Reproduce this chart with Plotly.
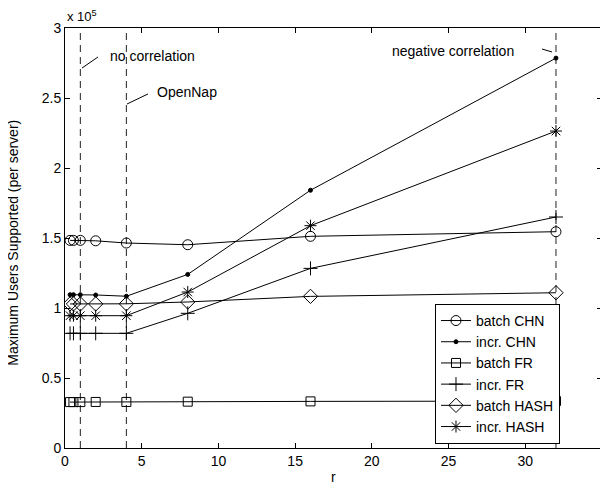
import plotly.graph_objects as go

r_values = [0.33, 0.55, 1, 2, 4, 8, 16, 32]

batch_chn = [1.483, 1.483, 1.483, 1.48, 1.464, 1.452, 1.512, 1.545]
incr_chn = [1.095, 1.095, 1.095, 1.093, 1.084, 1.24, 1.841, 2.785]
batch_fr = [0.328, 0.328, 0.328, 0.329, 0.329, 0.331, 0.333, 0.335]
incr_fr = [0.819, 0.819, 0.819, 0.819, 0.819, 0.962, 1.283, 1.65]
batch_hash = [1.029, 1.029, 1.029, 1.029, 1.03, 1.043, 1.083, 1.109]
incr_hash = [0.945, 0.945, 0.945, 0.945, 0.945, 1.114, 1.588, 2.264]

series_names = ["batch CHN", "incr. CHN", "batch FR", "incr. FR", "batch HASH", "incr. HASH"]
series_values = [batch_chn, incr_chn, batch_fr, incr_fr, batch_hash, incr_hash]
series_symbols = ["circle-open", "circle", "square-open", "cross-thin-open", "diamond-open", "asterisk-open"]
series_sizes = [10, 4, 9, 10, 11, 10]

x_ticks = [0, 5, 10, 15, 20, 25, 30, 35]
y_ticks = [0, 0.5, 1, 1.5, 2, 2.5, 3]
y_tick_labels = ["0", "0.5", "1", "1.5", "2", "2.5", "3"]

ref_lines = [1, 4, 32]

FONT = "Liberation Sans, Arial, Helvetica, sans-serif"
TXT = dict(family=FONT, size=14, color="black")

fig = go.Figure()

for xv in ref_lines:
    fig.add_shape(type="line", xref="x", yref="y", x0=xv, x1=xv, y0=0, y1=3,
                  line=dict(color="#222222", width=1, dash="7px,5px"), layer="below")

for name, vals, sym, sz in zip(series_names, series_values, series_symbols, series_sizes):
    fig.add_trace(go.Scatter(
        x=r_values, y=vals, name=name, mode="lines+markers",
        line=dict(color="black", width=1),
        marker=dict(symbol=sym, size=sz, color="black",
                    line=dict(color="black", width=1)),
    ))

# text annotations with pointer lines
fig.add_annotation(text="no correlation", x=2.80, y=2.80, xref="x", yref="y",
                   xanchor="left", yanchor="middle", showarrow=False, font=TXT)
fig.add_shape(type="line", xref="x", yref="y", x0=1.11, y0=2.714, x1=2.15, y1=2.793,
              line=dict(color="black", width=1))

fig.add_annotation(text="OpenNap", x=5.87, y=2.543, xref="x", yref="y",
                   xanchor="left", yanchor="middle", showarrow=False, font=TXT)
fig.add_shape(type="line", xref="x", yref="y", x0=4.04, y0=2.457, x1=5.41, y1=2.529,
              line=dict(color="black", width=1))

fig.add_annotation(text="negative correlation", x=21.18, y=2.836, xref="x", yref="y",
                   xanchor="left", yanchor="middle", showarrow=False, font=TXT)
fig.add_shape(type="line", xref="x", yref="y", x0=31.09, y0=2.85, x1=31.74, y1=2.829,
              line=dict(color="black", width=1))

fig.add_annotation(text="x 10<sup>5</sup>", x=0, y=1.0, xref="paper", yref="paper",
                   xanchor="left", yanchor="bottom", yshift=2, showarrow=False,
                   font=dict(family=FONT, size=13, color="black"))

# axis titles
fig.add_annotation(text="Maximum Users Supported (per server)", x=-0.096, y=0.49,
                   xref="paper", yref="paper", textangle=-90, xanchor="center",
                   yanchor="middle", showarrow=False, font=TXT)
fig.add_annotation(text="r", x=0.5, y=-0.069, xref="paper", yref="paper",
                   xanchor="center", yanchor="middle", showarrow=False, font=TXT)

# the page body adds an 8px offset, so the figure is 8px smaller than the window
fig.update_layout(
    width=600, height=479,
    margin=dict(l=57, r=6, t=20, b=39),
    paper_bgcolor="white", plot_bgcolor="white",
    font=dict(family=FONT, size=14, color="black"),
    showlegend=True,
    legend=dict(x=0.689, y=0.343, xanchor="left", yanchor="top",
                bgcolor="white", bordercolor="black", borderwidth=1,
                font=dict(family=FONT, size=14, color="black"),
                tracegroupgap=0, itemwidth=30),
)
fig.update_xaxes(range=[0, 35], tickvals=x_ticks, ticks="inside", ticklen=5,
                 showgrid=False, zeroline=False, showline=True, linecolor="black",
                 linewidth=1, mirror="ticks", tickcolor="black", automargin=False,
                 tickfont=TXT)
fig.update_yaxes(range=[0, 3], tickvals=y_ticks, ticktext=y_tick_labels, ticks="inside",
                 ticklen=5, showgrid=False, zeroline=False, showline=True,
                 linecolor="black", linewidth=1, mirror="ticks", tickcolor="black",
                 automargin=False, tickfont=TXT)

fig.write_html("out.html")
